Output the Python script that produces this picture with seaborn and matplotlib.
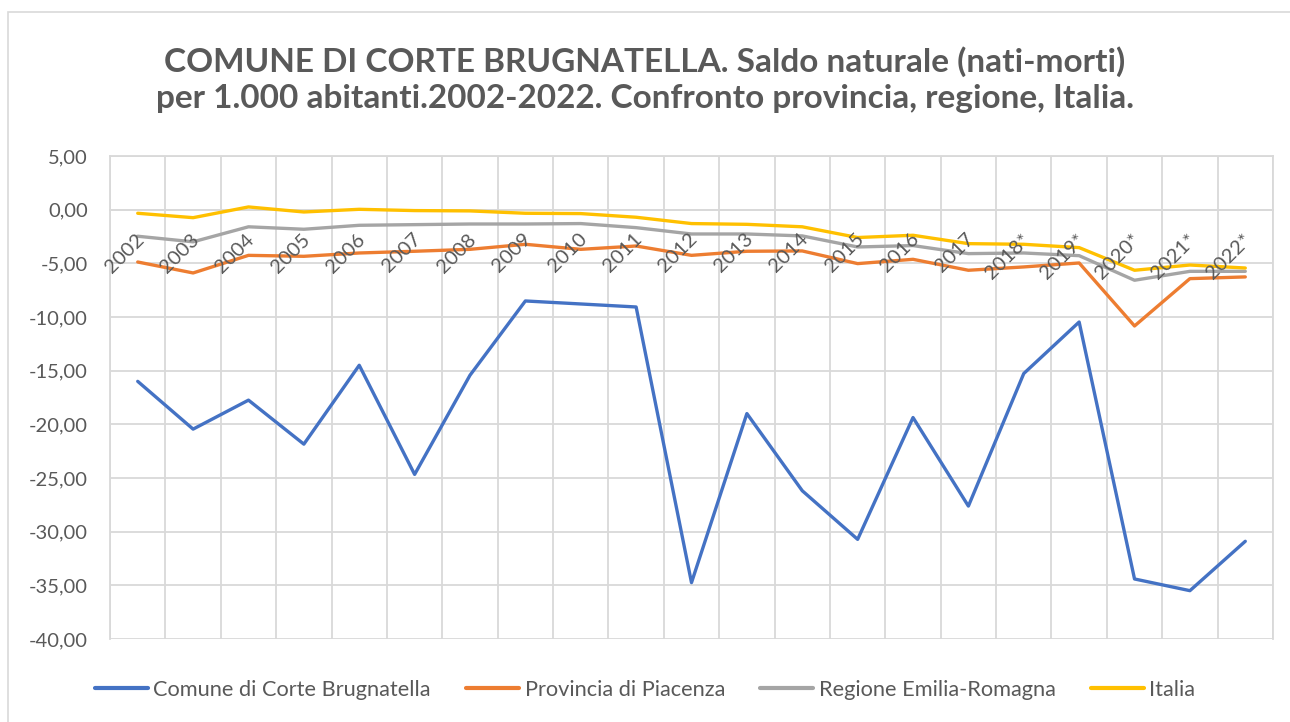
import pandas as pd
import numpy as np
import matplotlib
matplotlib.use("Agg")
import matplotlib.pyplot as plt
import seaborn as sns

# data
anni = ["2002", "2003", "2004", "2005", "2006", "2007", "2008", "2009", "2010", "2011",
        "2012", "2013", "2014", "2015", "2016", "2017", "2018*", "2019*", "2020*", "2021*", "2022*"]
comune = [-16.0, -20.45, -17.75, -21.85, -14.5, -24.67, -15.43, -8.51, -8.79, -9.07,
          -34.75, -19.0, -26.19, -30.72, -19.37, -27.62, -15.27, -10.47, -34.41, -35.5, -30.9]
provincia = [-4.88, -5.9, -4.26, -4.35, -4.04, -3.88, -3.7, -3.23, -3.7, -3.39,
             -4.26, -3.88, -3.85, -5.03, -4.63, -5.65, -5.34, -4.97, -10.84, -6.43, -6.27]
regione = [-2.48, -3.0, -1.6, -1.83, -1.46, -1.4, -1.34, -1.34, -1.3, -1.68,
           -2.27, -2.27, -2.45, -3.48, -3.35, -4.1, -4.04, -4.29, -6.58, -5.75, -5.75]
italia = [-0.34, -0.75, 0.25, -0.22, 0.03, -0.09, -0.12, -0.34, -0.37, -0.71,
          -1.3, -1.37, -1.6, -2.6, -2.39, -3.17, -3.23, -3.54, -5.65, -5.16, -5.44]

serie = ["Comune di Corte Brugnatella", "Provincia di Piacenza", "Regione Emilia-Romagna", "Italia"]
colori = ["#4472C4", "#ED7D31", "#A5A5A5", "#FFC000"]

rows = []
for nome, vals in zip(serie, [comune, provincia, regione, italia]):
    for i, v in enumerate(vals):
        rows.append({"idx": i, "valore": v, "serie": nome})
df = pd.DataFrame(rows)

sns.set_style("white")
plt.rcParams['font.family'] = ['Lato', 'DejaVu Sans']
testo = "#595959"
griglia = "#D9D9D9"

fig = plt.figure(figsize=(12.9, 7.22), dpi=100)
ax = fig.add_axes([0.0853, 0.115, 0.9015, 0.669])

sns.lineplot(data=df, x="idx", y="valore", hue="serie", palette=colori,
             hue_order=serie, linewidth=2.4, sort=False, ax=ax, zorder=3)

# x axis line crosses at 0 (set before the ticks: set_position resets them)
ax.spines["bottom"].set_position(("data", 0))
ax.spines["bottom"].set_color(griglia)
ax.spines["bottom"].set_linewidth(1.3)
for s in ["top", "right", "left"]:
    ax.spines[s].set_color(griglia)
    ax.spines[s].set_linewidth(1.3)

ax.set_xlim(-0.5, len(anni) - 0.5)
ax.set_ylim(-40, 5)
yt = np.arange(-40, 6, 5)
ax.set_yticks(yt)
ax.set_yticklabels([f"{v:.2f}".replace(".", ",") for v in yt], color=testo, fontsize=14.5)
ax.yaxis.grid(True, color=griglia, linewidth=1.3)

ax.set_xticks(np.arange(len(anni)))
ax.set_xticklabels([])
ax.set_xticks(np.arange(-0.5, len(anni)), minor=True)
ax.xaxis.grid(True, which="minor", color=griglia, linewidth=1.3)
ax.tick_params(axis="x", which="both", length=0)
ax.tick_params(axis="y", length=0, pad=16)
ax.set_xlabel("")
ax.set_ylabel("")

# category labels drawn over the lines, like in Excel
for i, a in enumerate(anni):
    ax.annotate(a, (i, 0), xytext=(-2, -15), textcoords="offset points",
                rotation=45, ha="right", va="top", rotation_mode="anchor",
                color=testo, fontsize=14.5, zorder=6, annotation_clip=False)

fig.text(0.5, 0.89, "COMUNE DI CORTE BRUGNATELLA. Saldo naturale (nati-morti)\n"
         "per 1.000 abitanti.2002-2022. Confronto provincia, regione, Italia.",
         ha="center", va="center", fontsize=24, fontweight="bold", color=testo,
         linespacing=1.3)

leg = ax.legend(loc="center", bbox_to_anchor=(0.5, 0.045), bbox_transform=fig.transFigure,
                ncol=4, frameon=False, fontsize=15.7, handlelength=2.45, columnspacing=1.6,
                handletextpad=0.25)
for t in leg.get_texts():
    t.set_color(testo)
for l in leg.get_lines():
    l.set_linewidth(3)

# chart border
fig.patches.append(plt.Rectangle((8 / 1290, -0.05), 1.1, 1 - 12 / 722 + 0.05,
                                 transform=fig.transFigure, fill=False,
                                 edgecolor="#D9D9D9", linewidth=1.2))

fig.savefig("out.png", dpi=100)
